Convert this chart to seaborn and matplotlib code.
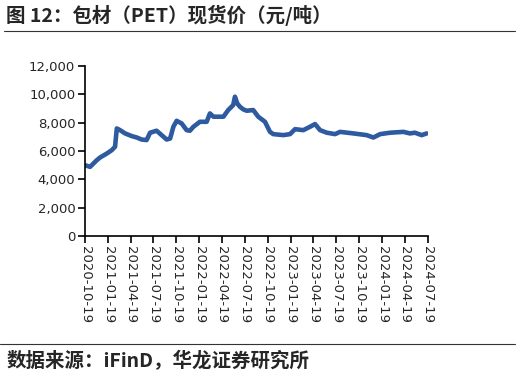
import pandas as pd
import matplotlib.pyplot as plt
import seaborn as sns

# PET spot price (yuan/ton)
dates = ['2020-10-19', '2020-11-08', '2020-12-05', '2020-12-18', '2021-01-14', '2021-02-03',
         '2021-02-16', '2021-02-23', '2021-03-08', '2021-03-28', '2021-04-24', '2021-05-14',
         '2021-06-02', '2021-06-22', '2021-07-06', '2021-08-01', '2021-08-21', '2021-09-10',
         '2021-09-24', '2021-10-07', '2021-10-20', '2021-11-09', '2021-11-29', '2021-12-12',
         '2021-12-26', '2022-01-21', '2022-02-17', '2022-03-02', '2022-03-16', '2022-04-25',
         '2022-05-14', '2022-06-03', '2022-06-10', '2022-06-19', '2022-06-30', '2022-07-13',
         '2022-07-27', '2022-08-22', '2022-09-11', '2022-10-08', '2022-10-28', '2022-11-10',
         '2022-12-20', '2023-01-16', '2023-02-05', '2023-03-10', '2023-04-06', '2023-04-26',
         '2023-05-16', '2023-06-12', '2023-07-15', '2023-08-04', '2023-09-26', '2023-11-18',
         '2023-12-15', '2024-01-11', '2024-02-20', '2024-04-13', '2024-05-09', '2024-05-29',
         '2024-06-25', '2024-07-15']
prices = [5000, 4880, 5350, 5540, 5820, 6060,
          6300, 7590, 7470, 7240, 7050, 6950,
          6810, 6770, 7290, 7430, 7120, 6810,
          6880, 7710, 8130, 7945, 7470, 7430,
          7710, 8060, 8060, 8650, 8420, 8420,
          8890, 9240, 9830, 9360, 9120, 8940,
          8840, 8890, 8420, 8060, 7350, 7190,
          7120, 7190, 7540, 7470, 7710, 7900,
          7470, 7290, 7190, 7350, 7240, 7120,
          6950, 7190, 7290, 7350, 7240, 7290,
          7120, 7240]

tick_dates = ['2020-10-19', '2021-01-19', '2021-04-19', '2021-07-19', '2021-10-19',
              '2022-01-19', '2022-04-19', '2022-07-19', '2022-10-19', '2023-01-19',
              '2023-04-19', '2023-07-19', '2023-10-19', '2024-01-19', '2024-04-19',
              '2024-07-19']
y_ticks = [0, 2000, 4000, 6000, 8000, 10000, 12000]

df = pd.DataFrame({'date': pd.to_datetime(dates), 'price': prices})

sns.set_style('ticks')
plt.rcParams['font.family'] = ['DejaVu Sans', 'Noto Sans CJK SC']

fig = plt.figure(figsize=(5.2, 3.77), dpi=100)
ax = fig.add_axes([0.1635, 0.374, 0.659, 0.451])

sns.lineplot(data=df, x='date', y='price', ax=ax, color='#2E5AA0', linewidth=3.3)

ticks = pd.to_datetime(tick_dates)
ax.set_xlim(ticks[0], ticks[-1])
ax.set_xticks(ticks)
ax.set_xticklabels(tick_dates, rotation=-90, fontsize=9.5)
ax.set_ylim(0, 12000)
ax.set_yticks(y_ticks)
ax.set_yticklabels([f'{v:,}' for v in y_ticks], fontsize=9.5)
ax.set_xlabel('')
ax.set_ylabel('')
ax.tick_params(axis='both', direction='out', length=5, width=1.2, color='black', pad=2)
for side in ['left', 'bottom']:
    ax.spines[side].set_color('black')
    ax.spines[side].set_linewidth(1.2)
sns.despine(ax=ax)

# title, rules and source
cjk = ['Noto Sans CJK SC', 'DejaVu Sans']
fig.text(0.012, 0.958, '图 12：包材（PET）现货价（元/吨）', fontsize=14, fontweight='bold',
         family=cjk, va='center', ha='left')
fig.add_artist(plt.Line2D([0.008, 0.99], [0.918, 0.918], color='#333333', linewidth=0.8))
fig.add_artist(plt.Line2D([0.0, 0.99], [0.088, 0.088], color='#333333', linewidth=0.8))
fig.text(0.012, 0.042, '数据来源：iFinD，华龙证券研究所', fontsize=14, fontweight='bold',
         family=cjk, va='center', ha='left')

fig.savefig('out.png', dpi=100)
